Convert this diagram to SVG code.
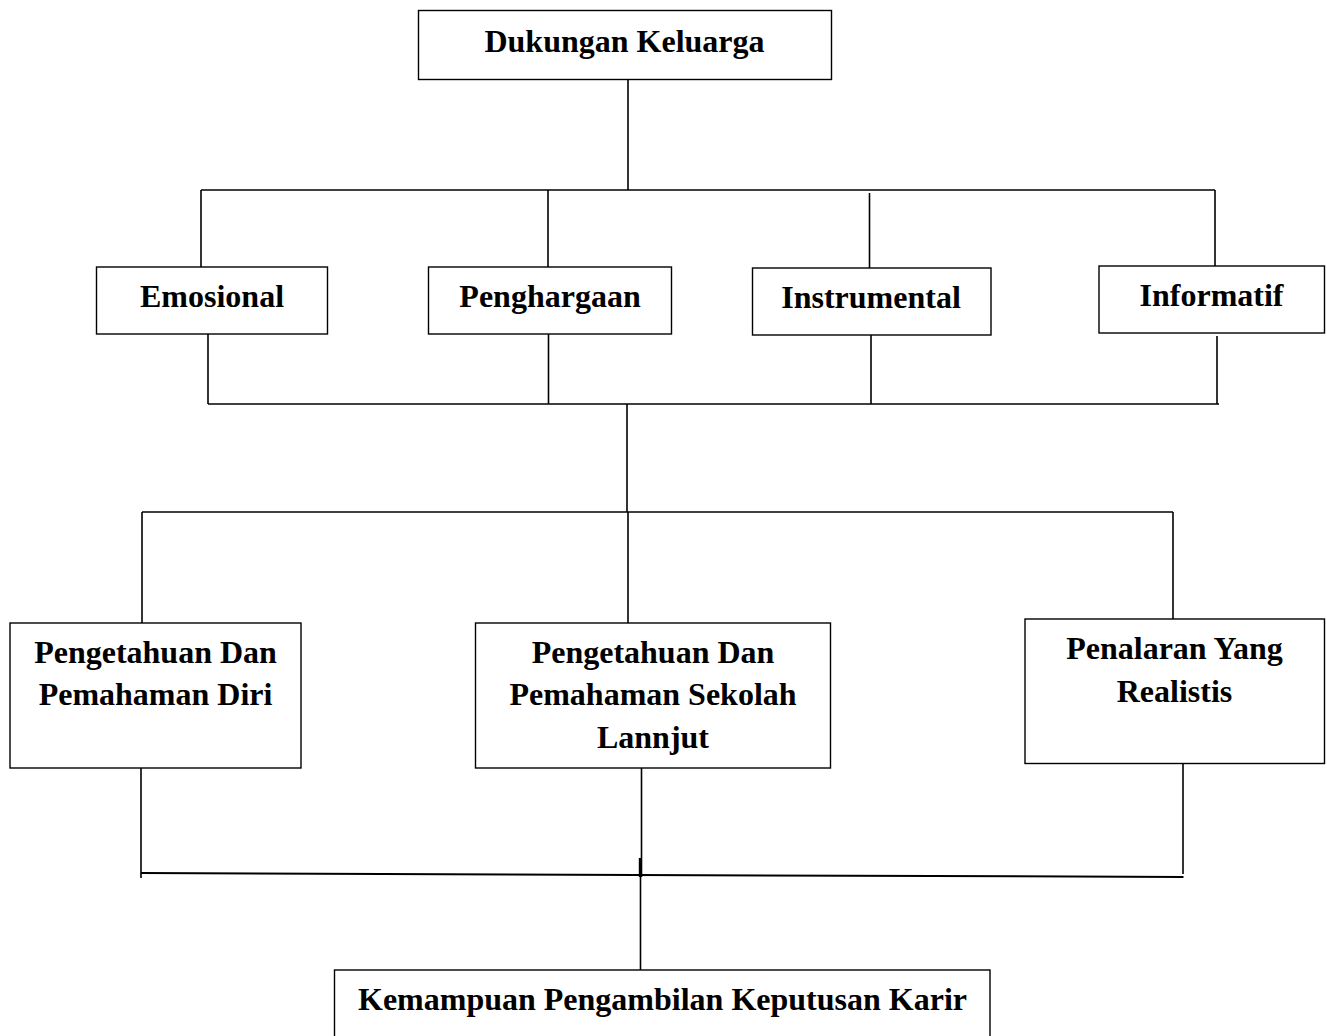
<svg xmlns="http://www.w3.org/2000/svg" width="1327" height="1036" viewBox="0 0 1327 1036">
<style>
.box{fill:#fff;stroke:#000;stroke-width:1.4}
.t{font-family:"Liberation Serif","Times New Roman",serif;font-weight:bold;font-size:32px;fill:#000;text-anchor:middle}
.c line{stroke:#000;stroke-width:1.6;fill:none}
</style>
<rect width="1327" height="1036" fill="#fff"/>
<g class="c" id="connectors">
<line x1="628" y1="79" x2="628" y2="190"/>
<line x1="201" y1="190" x2="1215" y2="190"/>
<line x1="201" y1="190" x2="201" y2="267"/>
<line x1="548" y1="190" x2="548" y2="267"/>
<line x1="869.5" y1="193" x2="869.5" y2="268"/>
<line x1="1215" y1="190" x2="1215" y2="266"/>
<line x1="208" y1="334" x2="208" y2="404"/>
<line x1="548.5" y1="334" x2="548.5" y2="404"/>
<line x1="871" y1="335" x2="871" y2="404"/>
<line x1="1217" y1="336" x2="1217" y2="404"/>
<line x1="208" y1="404" x2="1219" y2="404"/>
<line x1="627" y1="404" x2="627" y2="512"/>
<line x1="142" y1="512" x2="1173" y2="512"/>
<line x1="142" y1="512" x2="142" y2="623"/>
<line x1="628" y1="512" x2="628" y2="623"/>
<line x1="1173" y1="512" x2="1173" y2="619"/>
<line x1="141" y1="768" x2="141" y2="878"/>
<line x1="641.5" y1="768" x2="641.5" y2="877"/>
<line x1="640" y1="858" x2="640" y2="877" style="stroke-width:2.4"/>
<line x1="1183" y1="764" x2="1183" y2="874"/>
<line x1="141" y1="873" x2="1183.5" y2="877" style="stroke-width:2"/>
<line x1="640.5" y1="875" x2="640.5" y2="970"/>
</g>
<g id="n-dukungan">
<rect class="box" x="418.5" y="10.5" width="413" height="69"/>
<text class="t" x="624.5" y="51.5">Dukungan Keluarga</text>
</g>
<g id="n-emosional">
<rect class="box" x="96.5" y="267" width="231" height="67"/>
<text class="t" x="212" y="306.5">Emosional</text>
</g>
<g id="n-penghargaan">
<rect class="box" x="428.5" y="267" width="243" height="67"/>
<text class="t" x="550" y="306.5">Penghargaan</text>
</g>
<g id="n-instrumental">
<rect class="box" x="752.5" y="268" width="238.5" height="67"/>
<text class="t" x="871" y="308">Instrumental</text>
</g>
<g id="n-informatif">
<rect class="box" x="1099" y="266" width="225.5" height="67"/>
<text class="t" x="1211.5" y="305.5">Informatif</text>
</g>
<g id="n-diri">
<rect class="box" x="10" y="623" width="291" height="145"/>
<text class="t" x="155.5" y="662.5">Pengetahuan Dan</text>
<text class="t" x="155.5" y="705">Pemahaman Diri</text>
</g>
<g id="n-sekolah">
<rect class="box" x="475.5" y="623" width="355" height="145"/>
<text class="t" x="653" y="662.5">Pengetahuan Dan</text>
<text class="t" x="653" y="705">Pemahaman Sekolah</text>
<text class="t" x="653" y="748">Lannjut</text>
</g>
<g id="n-penalaran">
<rect class="box" x="1025" y="619" width="299.5" height="144.5"/>
<text class="t" x="1174.5" y="658.5">Penalaran Yang</text>
<text class="t" x="1174.5" y="701.5">Realistis</text>
</g>
<g id="n-kemampuan">
<rect class="box" x="334.5" y="970" width="655.5" height="80"/>
<text class="t" x="662.5" y="1010">Kemampuan Pengambilan Keputusan Karir</text>
</g>
</svg>
